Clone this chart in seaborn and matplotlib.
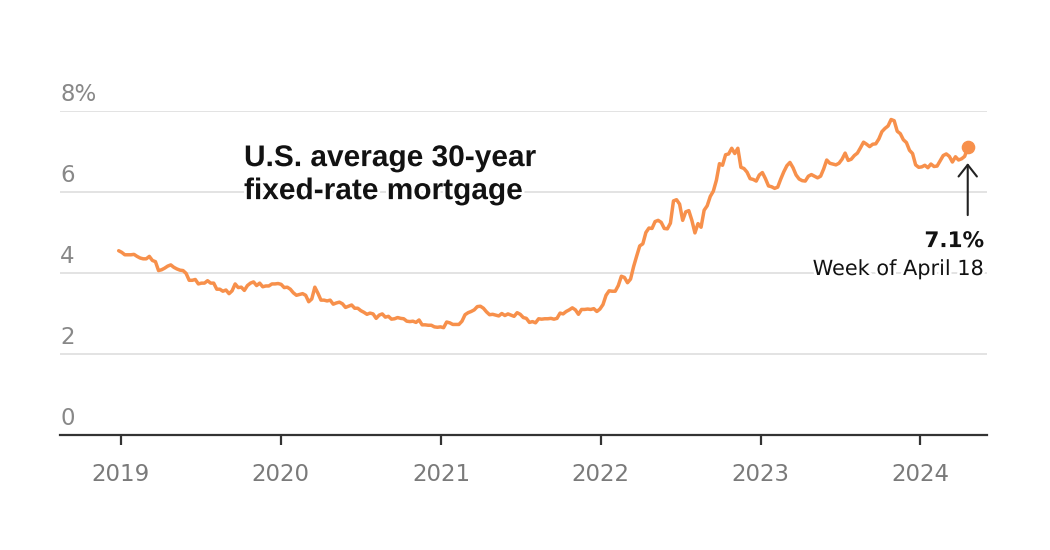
import matplotlib
matplotlib.use("Agg")
import matplotlib.pyplot as plt
import matplotlib.patheffects as pe
import seaborn as sns
import pandas as pd

# weekly 30-year fixed rate (%), one value per Thursday starting Dec 27 2018
first_week = "2018-12-27"
rates_2018 = [4.55]
rates_2019 = [4.51, 4.45, 4.45, 4.45, 4.46, 4.41, 4.37, 4.35, 4.35, 4.41,
              4.31, 4.28, 4.06, 4.08, 4.12, 4.17, 4.20, 4.14, 4.10, 4.07,
              4.06, 3.99, 3.82, 3.82, 3.84, 3.73, 3.75, 3.75, 3.81, 3.75,
              3.75, 3.60, 3.60, 3.55, 3.58, 3.49, 3.56, 3.73, 3.64, 3.65,
              3.57, 3.69, 3.75, 3.78, 3.69, 3.75, 3.66, 3.68, 3.68, 3.73,
              3.73, 3.74]
rates_2020 = [3.72, 3.64, 3.65, 3.60, 3.51, 3.45, 3.47, 3.49, 3.45, 3.29,
              3.36, 3.65, 3.50, 3.33, 3.33, 3.31, 3.33, 3.23, 3.26, 3.28,
              3.24, 3.15, 3.18, 3.21, 3.13, 3.13, 3.07, 3.03, 2.98, 3.01,
              2.99, 2.88, 2.96, 2.99, 2.91, 2.93, 2.86, 2.87, 2.90, 2.88,
              2.87, 2.81, 2.80, 2.81, 2.78, 2.84, 2.72, 2.72, 2.71, 2.71,
              2.67, 2.66, 2.67]
rates_2021 = [2.65, 2.79, 2.77, 2.73, 2.73, 2.73, 2.81, 2.97, 3.02, 3.05,
              3.09, 3.17, 3.18, 3.13, 3.04, 2.97, 2.98, 2.96, 2.94, 3.00,
              2.95, 2.99, 2.96, 2.93, 3.02, 2.98, 2.90, 2.88, 2.78, 2.80,
              2.77, 2.87, 2.86, 2.87, 2.87, 2.88, 2.86, 2.88, 3.01, 2.99,
              3.05, 3.09, 3.14, 3.09, 2.98, 3.10, 3.10, 3.11, 3.10, 3.12,
              3.05, 3.11]
rates_2022 = [3.22, 3.45, 3.56, 3.55, 3.55, 3.69, 3.92, 3.89, 3.76, 3.85,
              4.16, 4.42, 4.67, 4.72, 5.00, 5.11, 5.10, 5.27, 5.30, 5.25,
              5.10, 5.09, 5.23, 5.78, 5.81, 5.70, 5.30, 5.51, 5.54, 5.30,
              4.99, 5.22, 5.13, 5.55, 5.66, 5.89, 6.02, 6.29, 6.70, 6.66,
              6.92, 6.94, 7.08, 6.95, 7.08, 6.61, 6.58, 6.49, 6.33, 6.31,
              6.27, 6.42]
rates_2023 = [6.48, 6.33, 6.15, 6.13, 6.09, 6.12, 6.32, 6.50, 6.65, 6.73,
              6.60, 6.42, 6.32, 6.28, 6.27, 6.39, 6.43, 6.39, 6.35, 6.39,
              6.57, 6.79, 6.71, 6.69, 6.67, 6.71, 6.81, 6.96, 6.78, 6.81,
              6.90, 6.96, 7.09, 7.23, 7.18, 7.12, 7.18, 7.19, 7.31, 7.49,
              7.57, 7.63, 7.79, 7.76, 7.50, 7.44, 7.29, 7.22, 7.03, 6.95,
              6.67, 6.61]
rates_2024 = [6.62, 6.66, 6.60, 6.69, 6.63, 6.64, 6.77, 6.90, 6.94, 6.88,
              6.74, 6.87, 6.79, 6.82, 6.88, 7.10]

year_ticks = [2019, 2020, 2021, 2022, 2023, 2024]
y_ticks = [0, 2, 4, 6, 8]
y_labels = ["0", "2", "4", "6", "8%"]
title_lines = ["U.S. average 30-year", "fixed-rate mortgage"]
last_value_label = "7.1%"
last_week_label = "Week of April 18"

ORANGE = "#f7904b"
INK = "#121212"
GRAY = "#888888"

rates = rates_2018 + rates_2019 + rates_2020 + rates_2021 + rates_2022 + rates_2023 + rates_2024
df = pd.DataFrame({
    "week": pd.date_range(first_week, periods=len(rates), freq="7D"),
    "rate": rates,
})

sns.set_theme(style="white")
plt.rcParams["font.family"] = ["DejaVu Sans"]

fig = plt.figure(figsize=(10.5, 5.5), dpi=100)
ax = fig.add_axes([60 / 1050, 115 / 550, 927 / 1050, 324 / 550])

sns.lineplot(data=df, x="week", y="rate", color=ORANGE, linewidth=2.5, ax=ax, zorder=3)
last = df.iloc[-1]
ax.plot([last["week"]], [last["rate"]], "o", color=ORANGE, ms=8.8, clip_on=False, zorder=5)

ax.set_xlim(pd.Timestamp("2018-08-15"), pd.Timestamp("2024-06-01"))
ax.set_ylim(0, 8)

# x axis: year ticks
ax.set_xticks([pd.Timestamp(f"{y}-01-01") for y in year_ticks])
ax.set_xticklabels([str(y) for y in year_ticks])
ax.tick_params(axis="x", bottom=True, length=7.2, width=1.6, color="#333333",
               pad=13, labelsize=16.5, labelcolor="#7a7a7a")

# y axis: gridlines only, labels sit above the lines
ax.set_yticks(y_ticks)
ax.set_yticklabels([])
ax.tick_params(axis="y", length=0)
ax.grid(axis="y", color="#e3e3e3", linewidth=1.4)
ax.grid(axis="x", visible=False)
ax.set_axisbelow(True)
ax.set_xlabel("")
ax.set_ylabel("")
for s in ["top", "left", "right"]:
    ax.spines[s].set_visible(False)
ax.spines["bottom"].set_color("#333333")
ax.spines["bottom"].set_linewidth(1.6)
ax.spines["bottom"].set_zorder(4)

for v, lab in zip(y_ticks, y_labels):
    ax.annotate(lab, xy=(0, v), xycoords=("axes fraction", "data"),
                xytext=(0, 7), textcoords="offset points",
                ha="left", va="baseline", fontsize=16.5, color=GRAY)

halo = [pe.withStroke(linewidth=4, foreground="white")]
for i, line in enumerate(title_lines):
    ax.text(0.1985, 0.830 - i * 0.102, line, transform=ax.transAxes,
            ha="left", va="baseline", fontsize=21.5, fontweight="bold",
            family=["Liberation Sans", "DejaVu Sans"], color=INK,
            path_effects=halo, zorder=6)

# arrow pointing at the latest week
ax.annotate("", xy=(last["week"], last["rate"]), xytext=(0, -48.7),
            textcoords="offset points",
            arrowprops=dict(arrowstyle="->,head_length=0.7,head_width=0.55",
                            color="#222222", lw=1.5, shrinkA=0, shrinkB=11.3))

ax.text(0.9968, 0.580, last_value_label, transform=ax.transAxes, ha="right",
        va="baseline", fontsize=15.5, fontweight="bold", color=INK,
        path_effects=halo, zorder=6)
ax.text(0.9968, 0.4938, last_week_label, transform=ax.transAxes, ha="right",
        va="baseline", fontsize=15, color=INK, path_effects=halo, zorder=6)

fig.savefig("out.png", dpi=100)
